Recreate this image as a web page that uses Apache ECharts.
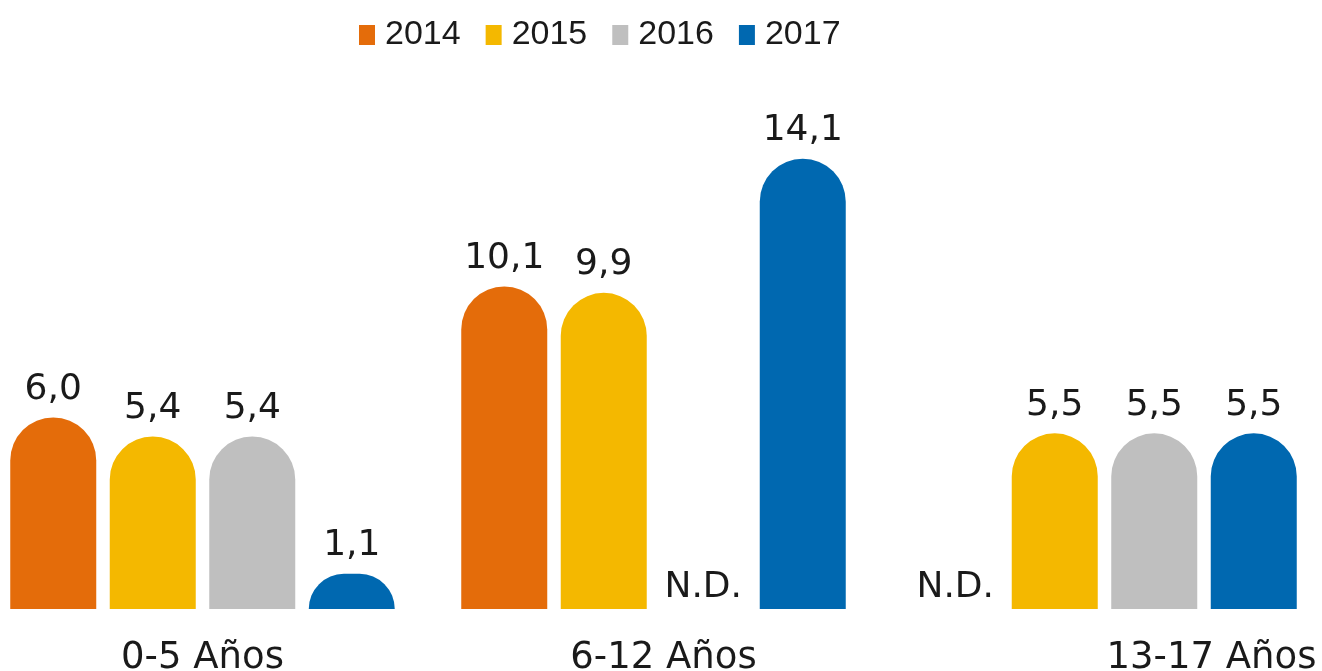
<!DOCTYPE html>
<html>
<head>
<meta charset="utf-8">
<script src="https://cdn.jsdelivr.net/npm/echarts@6/dist/echarts.min.js"></script>
<style>
  html, body { margin: 0; padding: 0; background: #fff; }
  #chart { width: 1322px; height: 671px; }
</style>
</head>
<body>
<div id="chart"></div>
<script>
// categories and values (null = N.D.)
const categories = ['0-5 Años', '6-12 Años', '13-17 Años']
const years = ['2014', '2015', '2016', '2017']
const v2014 = [6.0, 10.1, null]
const v2015 = [5.4, 9.9, 5.5]
const v2016 = [5.4, null, 5.5]
const v2017 = [1.1, 14.1, 5.5]
const colors = ['#E46C0A', '#F4B800', '#BFBFBF', '#0068B0']

const labelFont = 'DejaVu Sans'
const textColor = '#1a1a1a'

function toItems (arr) {
  return arr.map(v => {
    if (v === null) {
      return {value: 0, label: {formatter: 'N.D.', distance: 3}}
    }
    return v
  })
}

const chart = echarts.init(document.getElementById('chart'))
const option = {
  animation: false,
  legend: {
    data: years,
    left: 359,
    top: 18,
    padding: 0,
    icon: 'rect',
    itemWidth: 16,
    itemHeight: 20,
    itemGap: 25,
    textStyle: {
      fontFamily: '"Liberation Sans", sans-serif',
      fontSize: 34,
      color: textColor,
      padding: [0, 0, 0, 5]
    }
  },
  grid: {
    left: -23,
    width: 1353,
    top: 130,
    bottom: 62,
    outerBoundsMode: 'none'
  },
  xAxis: {
    type: 'category',
    data: [
      categories[0],
      {value: categories[1], textStyle: {padding: [0, 0, 0, 20]}},
      {value: categories[2], textStyle: {padding: [0, 0, 0, 214]}}
    ],
    axisLine: {show: false},
    axisTick: {show: false},
    axisLabel: {
      interval: 0,
      margin: 31,
      fontFamily: labelFont,
      fontSize: 37,
      color: textColor
    }
  },
  yAxis: {
    type: 'value',
    min: 0,
    max: 15,
    show: false,
    splitLine: {show: false}
  },
  series: [v2014, v2015, v2016, v2017].map((arr, i) => ({
    name: years[i],
    type: 'bar',
    data: toItems(arr),
    barWidth: 86,
    barGap: '15.7%',
    itemStyle: {color: colors[i], borderRadius: [43, 43, 0, 0]},
    label: {
      show: true,
      position: 'top',
      distance: 10,
      fontFamily: labelFont,
      fontSize: 36,
      color: textColor,
      formatter: p => p.value.toFixed(1).replace('.', ',')
    }
  }))
}
chart.setOption(option, true)
</script>
</body>
</html>
